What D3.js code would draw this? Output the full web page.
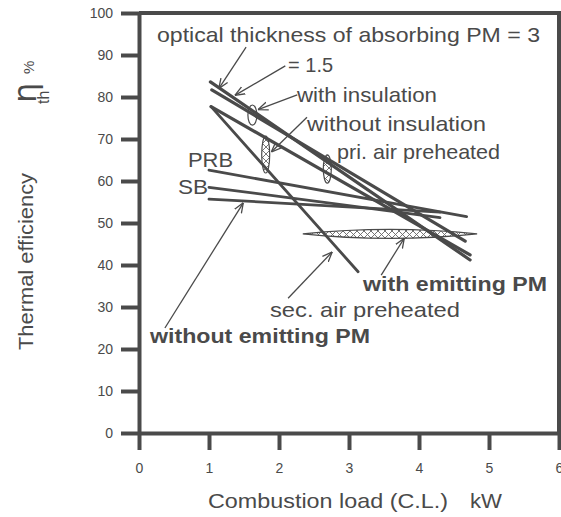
<!DOCTYPE html>
<html>
<head>
<meta charset="utf-8">
<script src="https://d3js.org/d3.v7.min.js"></script>
<style>
  body { margin: 0; background: #fff; }
  svg text { font-family: "Liberation Sans", Arial, sans-serif; fill: #4a4a4a; }
</style>
</head>
<body>
<div id="chart"></div>
<script>
// line data: combustion load (kW) -> thermal efficiency (%)
const lineKeys = ["tau3", "tau1_5", "priAir", "secAir", "prb", "sb", "noEmit"];
const loadFrom = [1.02, 1.04, 1.03, 1.03, 1.0, 1.0, 1.0];
const loadTo   = [4.73, 4.66, 4.73, 3.13, 4.68, 4.3, 4.3];
const effFrom  = [83.6, 81.7, 77.7, 77.7, 62.6, 58.5, 55.7];
const effTo    = [41.2, 45.7, 42.4, 38.4, 51.5, 51.3, 52.6];

// vertical spread markers (ellipses)
const spreadKeys = ["withIns", "withoutIns", "priAirSpread"];
const spreadLoad = [1.62, 1.81, 2.69];
const spreadLow  = [73.3, 61.9, 59.5];
const spreadHigh = [78.1, 70.7, 66.2];

// horizontal band for "with emitting PM"
const emitLoad = [2.34, 4.83];
const emitEff = 47.4;

const xTicks = [0, 1, 2, 3, 4, 5, 6];
const yTicks = [0, 10, 20, 30, 40, 50, 60, 70, 80, 90, 100];

const W = 561, H = 517;
const svg = d3.select("#chart").append("svg")
  .attr("width", W).attr("height", H);

const x = d3.scaleLinear().domain([0, 6]).range([139, 559]);
const y = d3.scaleLinear().domain([0, 100]).range([433, 13]);

const ink = "#4a4a4a";

const defs = svg.append("defs");
const pat = defs.append("pattern")
  .attr("id", "hatch").attr("patternUnits", "userSpaceOnUse")
  .attr("width", 7).attr("height", 7);
pat.append("rect").attr("width", 7).attr("height", 7).attr("fill", "#fff");
pat.append("path").attr("d", "M0,0 L7,7 M0,7 L7,0")
  .attr("stroke", "#666").attr("stroke-width", 0.9);

defs.append("marker")
  .attr("id", "arrow").attr("markerUnits", "userSpaceOnUse")
  .attr("viewBox", "0 0 10 10").attr("refX", 10).attr("refY", 5)
  .attr("markerWidth", 10).attr("markerHeight", 10).attr("orient", "auto")
  .append("path").attr("d", "M0,1 L10,5 L0,9")
  .attr("fill", "none").attr("stroke", ink).attr("stroke-width", 1.3);

// axes
const yAxis = svg.append("g").attr("transform", `translate(${x(0)},0)`)
  .call(d3.axisLeft(y).tickValues(yTicks).tickFormat(d3.format("d"))
    .tickSize(18).tickSizeOuter(0).tickPadding(8));
const xAxis = svg.append("g").attr("transform", `translate(0,${y(0)})`)
  .call(d3.axisBottom(x).tickValues(xTicks).tickFormat(d3.format("d"))
    .tickSize(17).tickSizeOuter(0).tickPadding(13));

[yAxis, xAxis].forEach(g => {
  g.selectAll("path.domain").attr("stroke", ink).attr("stroke-width", 4);
  g.selectAll(".tick line").attr("stroke", ink).attr("stroke-width", 4);
  g.selectAll(".tick text").style("font-size", "14px").attr("fill", "#4a4a4a");
});

// frame top and right
svg.append("path")
  .attr("d", `M${x(0)},${y(100)} H${x(6)} V${y(0)}`)
  .attr("fill", "none").attr("stroke", ink).attr("stroke-width", 4);

// hatched spreads
svg.selectAll(".spread").data(spreadKeys).enter().append("ellipse")
  .attr("cx", (d, i) => x(spreadLoad[i]))
  .attr("cy", (d, i) => (y(spreadLow[i]) + y(spreadHigh[i])) / 2)
  .attr("rx", (d, i) => i === 0 ? 4.5 : 4)
  .attr("ry", (d, i) => (y(spreadLow[i]) - y(spreadHigh[i])) / 2)
  .attr("fill", (d, i) => i === 0 ? "#fff" : "url(#hatch)")
  .attr("stroke", ink).attr("stroke-width", 1.2);

const bx1 = x(emitLoad[0]), bx2 = x(emitLoad[1]), by = y(emitEff);
svg.append("path")
  .attr("d", `M${bx1},${by} Q${(bx1 + bx2) / 2},${by - 9} ${bx2},${by} Q${(bx1 + bx2) / 2},${by + 9} ${bx1},${by} Z`)
  .attr("fill", "url(#hatch)").attr("stroke", ink).attr("stroke-width", 1.2);

// data lines
svg.selectAll(".series").data(lineKeys).enter().append("line")
  .attr("x1", (d, i) => x(loadFrom[i])).attr("y1", (d, i) => y(effFrom[i]))
  .attr("x2", (d, i) => x(loadTo[i])).attr("y2", (d, i) => y(effTo[i]))
  .attr("stroke", ink)
  .attr("stroke-width", (d, i) => i < 3 ? 3.2 : 2.8)
  .attr("stroke-linecap", "round");

// annotation arrows, in data units [fromLoad, fromEff, toLoad, toEff]
const arrows = [
  [1.53, 91.9, 1.14, 82.0],
  [2.09, 87.4, 1.37, 80.4],
  [2.26, 80.5, 1.70, 77.0],
  [2.40, 75.2, 1.89, 66.9],
  [0.37, 25.0, 1.49, 54.8],
  [2.13, 32.1, 2.76, 43.1],
  [3.46, 37.6, 3.79, 46.4]
];
svg.selectAll(".arrow").data(arrows).enter().append("line")
  .attr("x1", d => x(d[0])).attr("y1", d => y(d[1]))
  .attr("x2", d => x(d[2])).attr("y2", d => y(d[3]))
  .attr("stroke", ink).attr("stroke-width", 1.3)
  .attr("marker-end", "url(#arrow)");

// annotation texts: [text, load, eff, width, bold]
const notes = [
  ["optical thickness of absorbing PM = 3", 0.257, 93.1, 383, false],
  ["= 1.5", 2.13, 85.95, 45, false],
  ["with insulation", 2.257, 78.8, 140, false],
  ["without insulation", 2.4, 71.9, 179, false],
  ["pri. air preheated", 2.83, 65.2, 163, false],
  ["PRB", 0.70, 63.3, 45, false],
  ["SB", 0.557, 56.9, 30, false],
  ["without emitting PM", 0.157, 21.4, 220, true],
  ["sec. air preheated", 1.871, 27.6, 190, false],
  ["with emitting PM", 3.2, 33.8, 184, true]
];
svg.selectAll(".note").data(notes).enter().append("text")
  .attr("x", d => x(d[1])).attr("y", d => y(d[2]))
  .attr("textLength", d => d[3]).attr("lengthAdjust", "spacingAndGlyphs")
  .style("font-size", d => d[4] ? "20px" : "21px")
  .style("font-weight", d => d[4] ? "bold" : "normal")
  .text(d => d[0]);

// axis titles
svg.append("text").attr("x", 208).attr("y", 508)
  .attr("textLength", 240).attr("lengthAdjust", "spacingAndGlyphs")
  .style("font-size", "21px").text("Combustion load (C.L.)");
svg.append("text").attr("x", 470).attr("y", 508)
  .attr("textLength", 32).attr("lengthAdjust", "spacingAndGlyphs")
  .style("font-size", "21px").text("kW");

svg.append("text").attr("transform", "translate(33,350) rotate(-90)")
  .attr("textLength", 177).attr("lengthAdjust", "spacingAndGlyphs")
  .style("font-size", "21px").text("Thermal efficiency");
svg.append("text").attr("transform", "translate(36,103) rotate(-90)")
  .style("font-size", "32px").style("font-family", "DejaVu Sans").text("η");
svg.append("text").attr("transform", "translate(49,104) rotate(-90)")
  .style("font-size", "16px").text("th");
svg.append("text").attr("transform", "translate(34,74) rotate(-90)")
  .style("font-size", "15px").text("%");
</script>
</body>
</html>
